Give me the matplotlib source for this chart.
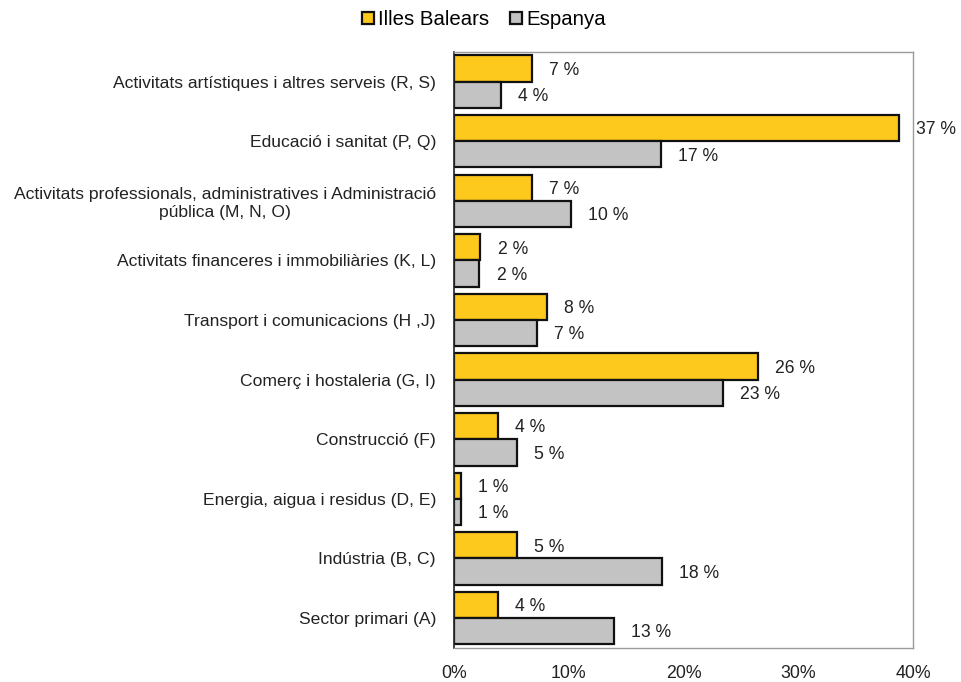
import numpy as np
import matplotlib.pyplot as plt

plt.rcParams['font.family'] = ['Liberation Sans', 'DejaVu Sans']

# %% dades
categories = ['Activitats artístiques i altres serveis (R, S)',
              'Educació i sanitat (P, Q)',
              'Activitats professionals, administratives i Administració\npública (M, N, O)',
              'Activitats financeres i immobiliàries (K, L)',
              'Transport i comunicacions (H ,J)',
              'Comerç i hostaleria (G, I)',
              'Construcció (F)',
              'Energia, aigua i residus (D, E)',
              'Indústria (B, C)',
              'Sector primari (A)']
balears = [6.8, 38.8, 6.8, 2.3, 8.1, 26.5, 3.8, 0.6, 5.5, 3.8]
espanya = [4.1, 18.0, 10.2, 2.2, 7.2, 23.4, 5.5, 0.6, 18.1, 13.9]
balears_lbl = ['7 %', '37 %', '7 %', '2 %', '8 %', '26 %', '4 %', '1 %', '5 %', '4 %']
espanya_lbl = ['4 %', '17 %', '10 %', '2 %', '7 %', '23 %', '5 %', '1 %', '18 %', '13 %']
xticks = [0, 10, 20, 30, 40]

# %% grafic
fig = plt.figure(figsize=(9.62, 6.82), dpi=100)
ax = fig.add_axes([0.472, 0.050, 0.477, 0.874])

y = np.arange(len(categories))
h = 0.44
b1 = ax.barh(y - h/2, balears, height=h, color='#FDC91C', edgecolor='#111111',
             linewidth=1.6, label='Illes Balears')
b2 = ax.barh(y + h/2, espanya, height=h, color='#C3C3C3', edgecolor='#111111',
             linewidth=1.6, label='Espanya')

for i in range(len(categories)):
    ax.text(balears[i] + 1.5, y[i] - h/2 + 0.03, balears_lbl[i], va='center',
            ha='left', fontsize=12.7, color='#222222')
    ax.text(espanya[i] + 1.5, y[i] + h/2 + 0.03, espanya_lbl[i], va='center',
            ha='left', fontsize=12.7, color='#222222')

ax.set_ylim(len(categories) - 0.5, -0.5)
ax.set_xlim(0, 40)
ax.set_yticks(y)
ax.set_yticklabels(categories, fontsize=12.6, color='#222222')
# etiquetes de dues linies centrades
for lbl in ax.get_yticklabels():
    lbl.set_multialignment('center')
ax.tick_params(axis='y', length=0, pad=13)
ax.set_xticks(xticks)
ax.set_xticklabels([f'{t}%' for t in xticks], fontsize=12.8, color='#222222')
ax.tick_params(axis='x', length=0, pad=12)

for s in ['top', 'right', 'bottom']:
    ax.spines[s].set_color('#9a9a9a')
    ax.spines[s].set_linewidth(1.0)
ax.spines['left'].set_color('#222222')
ax.spines['left'].set_linewidth(1.2)

fig.legend(handles=[b1, b2], loc='upper center', bbox_to_anchor=(0.503, 1.012),
           ncol=2, frameon=False, fontsize=14.7, handlelength=0.6,
           handleheight=0.6, handletextpad=0.2, columnspacing=1.0)

fig.savefig('out.png', dpi=100)
